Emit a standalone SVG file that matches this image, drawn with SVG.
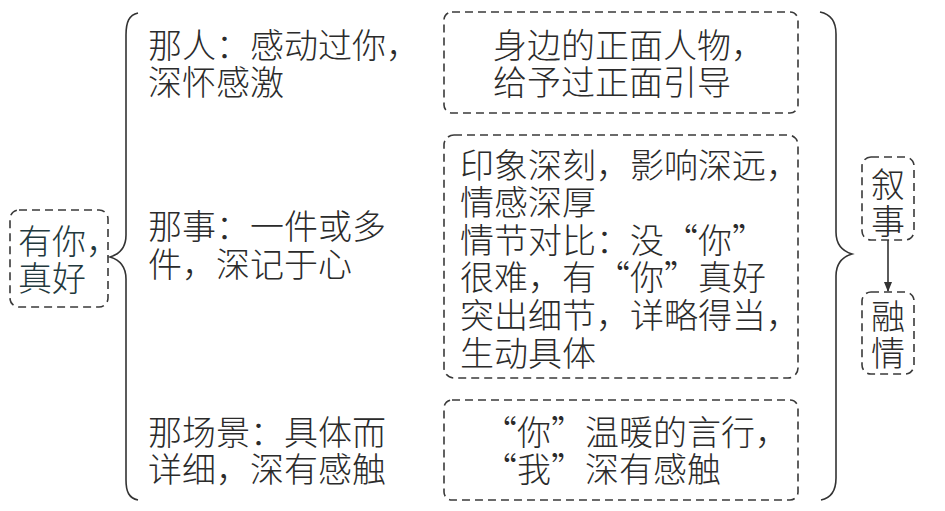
<svg xmlns="http://www.w3.org/2000/svg" width="945" height="511" viewBox="0 0 945 511">
<style>
text{font-family:"Noto Sans CJK SC","Noto Sans",sans-serif;font-size:34px;font-weight:300;fill:#2b2b2b;}
.box{fill:none;stroke:#3a3a3a;stroke-width:1.6;stroke-dasharray:8 5;}
.brace{fill:none;stroke:#333;stroke-width:1.6;}
.root text{fill:#22383d;}
</style>
<defs>
<marker id="ah" viewBox="0 0 10 10" refX="9" refY="5" markerWidth="10" markerHeight="10" markerUnits="userSpaceOnUse" orient="auto">
<path d="M0,1 L10,5 L0,9 Z" fill="#333"/>
</marker>
</defs>
<rect width="945" height="511" fill="#fff"/>
<g id="root" class="root">
<rect class="box" x="10" y="210" width="98" height="97" rx="9" fill="#f7fbfb"/>
<text x="18" y="254">有你，</text>
<text x="18" y="291">真好</text>
</g>
<g id="left-items">
<g id="ren"><text x="148" y="58">那人：感动过你，</text><text x="148" y="95">深怀感激</text></g>
<g id="shi"><text x="148" y="239">那事：一件或多</text><text x="148" y="277">件，深记于心</text></g>
<g id="jing"><text x="148" y="445">那场景：具体而</text><text x="148" y="482">详细，深有感触</text></g>
</g>
<g id="box1"><rect class="box" x="444" y="12" width="354" height="101" rx="8"/>
<text x="493" y="58">身边的正面人物，</text><text x="493" y="95">给予过正面引导</text></g>
<g id="box2"><rect class="box" x="444" y="135" width="354" height="243" rx="10"/>
<text x="460" y="178">印象深刻，影响深远，</text>
<text x="460" y="215">情感深厚</text>
<text x="460" y="253">情节对比：没“你”</text>
<text x="460" y="290">很难，有“你”真好</text>
<text x="460" y="328">突出细节，详略得当，</text>
<text x="460" y="366">生动具体</text></g>
<g id="box3"><rect class="box" x="444" y="400" width="354" height="100" rx="8"/>
<text x="483" y="445">“你”温暖的言行，</text><text x="483" y="482">“我”深有感触</text></g>
<g id="xushi"><rect class="box" x="862" y="157" width="52" height="83" rx="9"/>
<text x="888" y="197" text-anchor="middle">叙</text><text x="888" y="234" text-anchor="middle">事</text></g>
<g id="rongqing"><rect class="box" x="862" y="292" width="52" height="82" rx="9"/>
<text x="888" y="329" text-anchor="middle">融</text><text x="888" y="366" text-anchor="middle">情</text></g>
<g id="connectors">
<path class="brace" d="M138,13 C129,15 126,22 126,35 L126,235 C126,248 120,254 110,257 C120,260 126,266 126,279 L126,480 C126,492 129,498 138,500"/>
<path class="brace" d="M820,12 C830,14 836,20 836,34 L836,232 C836,245 842,251 852,254 C842,257 836,263 836,276 L836,478 C836,491 831,498 821,500"/>
<line x1="888" y1="240" x2="888" y2="291" stroke="#333" stroke-width="1.6" marker-end="url(#ah)"/>
</g>
</svg>
